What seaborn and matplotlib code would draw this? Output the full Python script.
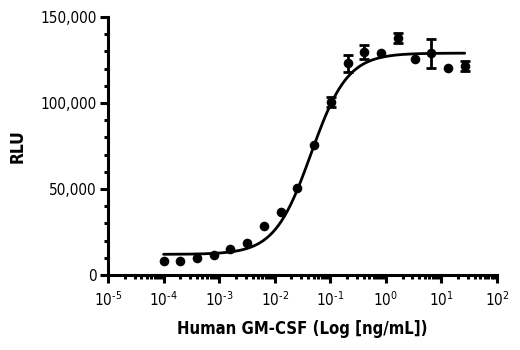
import numpy as np
import pandas as pd
import matplotlib
matplotlib.use("Agg")
import matplotlib.pyplot as plt
import matplotlib.ticker as mticker
import seaborn as sns

# Two-fold dilution series of Human GM-CSF (ng/mL)
concentration = [1.0e-4, 2.0e-4, 4.0e-4, 8.0e-4, 1.6e-3, 3.2e-3, 6.4e-3, 0.0128,
                 0.0256, 0.0512, 0.1024, 0.2048, 0.4096, 0.8192, 1.6384, 3.2768,
                 6.5536, 13.1072, 26.2144]
rlu = [8100, 8100, 10000, 11400, 15100, 18400, 28500, 36600,
       50300, 75600, 100600, 123000, 129800, 129000, 137600, 125600,
       128900, 120200, 121500]
rlu_sd = [0, 0, 0, 0, 0, 0, 0, 0,
          0, 0, 3000, 5000, 4000, 0, 3000, 0,
          8500, 0, 3000]

# Four-parameter logistic fit
fit_bottom = 12000
fit_top = 129000
fit_ec50 = 0.045
fit_hill = 1.32

y_ticks = [0, 50000, 100000, 150000]
x_decades = list(range(-5, 3))

sns.set_theme(style="ticks")
plt.rcParams["font.family"] = ["DejaVu Sans"]
plt.rcParams["font.stretch"] = "condensed"
plt.rcParams["text.color"] = "black"
plt.rcParams["axes.labelcolor"] = "black"
plt.rcParams["mathtext.fontset"] = "custom"
plt.rcParams["mathtext.rm"] = "DejaVu Sans:stretch=condensed"

df = pd.DataFrame({"conc": concentration, "rlu": rlu, "sd": rlu_sd})
xs = np.logspace(np.log10(concentration[0]), np.log10(concentration[-1]), 400)
fit = pd.DataFrame({
    "conc": xs,
    "rlu": fit_bottom + (fit_top - fit_bottom) / (1 + (fit_ec50 / xs) ** fit_hill),
})

fig = plt.figure(figsize=(5.2, 3.5), dpi=100)
ax = fig.add_axes([0.2077, 0.2143, 0.7481, 0.7371])

sns.lineplot(data=fit, x="conc", y="rlu", color="black", linewidth=2.0, ax=ax)
err = df[df["sd"] > 0]
ax.errorbar(err["conc"], err["rlu"], yerr=err["sd"], fmt="none", ecolor="black",
            elinewidth=2.0, capsize=3.5, capthick=2.0, zorder=3)
sns.scatterplot(data=df, x="conc", y="rlu", color="black", s=48, edgecolor="black",
                linewidth=0, ax=ax, zorder=4)

ax.set_xscale("log")
ax.set_xlim(10.0 ** x_decades[0], 10.0 ** x_decades[-1])
ax.set_ylim(y_ticks[0], y_ticks[-1])

ax.set_xticks([10.0 ** d for d in x_decades])
ax.set_xticklabels([r"$\mathregular{10^{\text{%d}}}$" % d for d in x_decades])
ax.xaxis.set_minor_locator(mticker.LogLocator(base=10, subs=np.arange(2, 10), numticks=20))
ax.xaxis.set_minor_formatter(mticker.NullFormatter())

ax.set_yticks(y_ticks)
ax.set_yticklabels([f"{v:,}" for v in y_ticks])
ax.yaxis.set_minor_locator(mticker.MultipleLocator(10000))

for side in ("left", "bottom"):
    ax.spines[side].set_linewidth(2.2)
    ax.spines[side].set_color("black")
sns.despine(ax=ax)

ax.tick_params(axis="both", which="major", direction="out", width=2.2, color="black",
               labelsize=11, labelcolor="black")
ax.tick_params(axis="x", which="major", length=6, pad=5)
ax.tick_params(axis="y", which="major", length=6, pad=2)
ax.tick_params(axis="both", which="minor", direction="out", width=2.2, length=3, color="black")

ax.set_xlabel("Human GM-CSF (Log [ng/mL])", fontsize=12, fontweight="bold", labelpad=8)
ax.set_ylabel("RLU", fontsize=12.5, fontweight="bold", labelpad=10)

fig.savefig("out.png", dpi=100, facecolor="white")
